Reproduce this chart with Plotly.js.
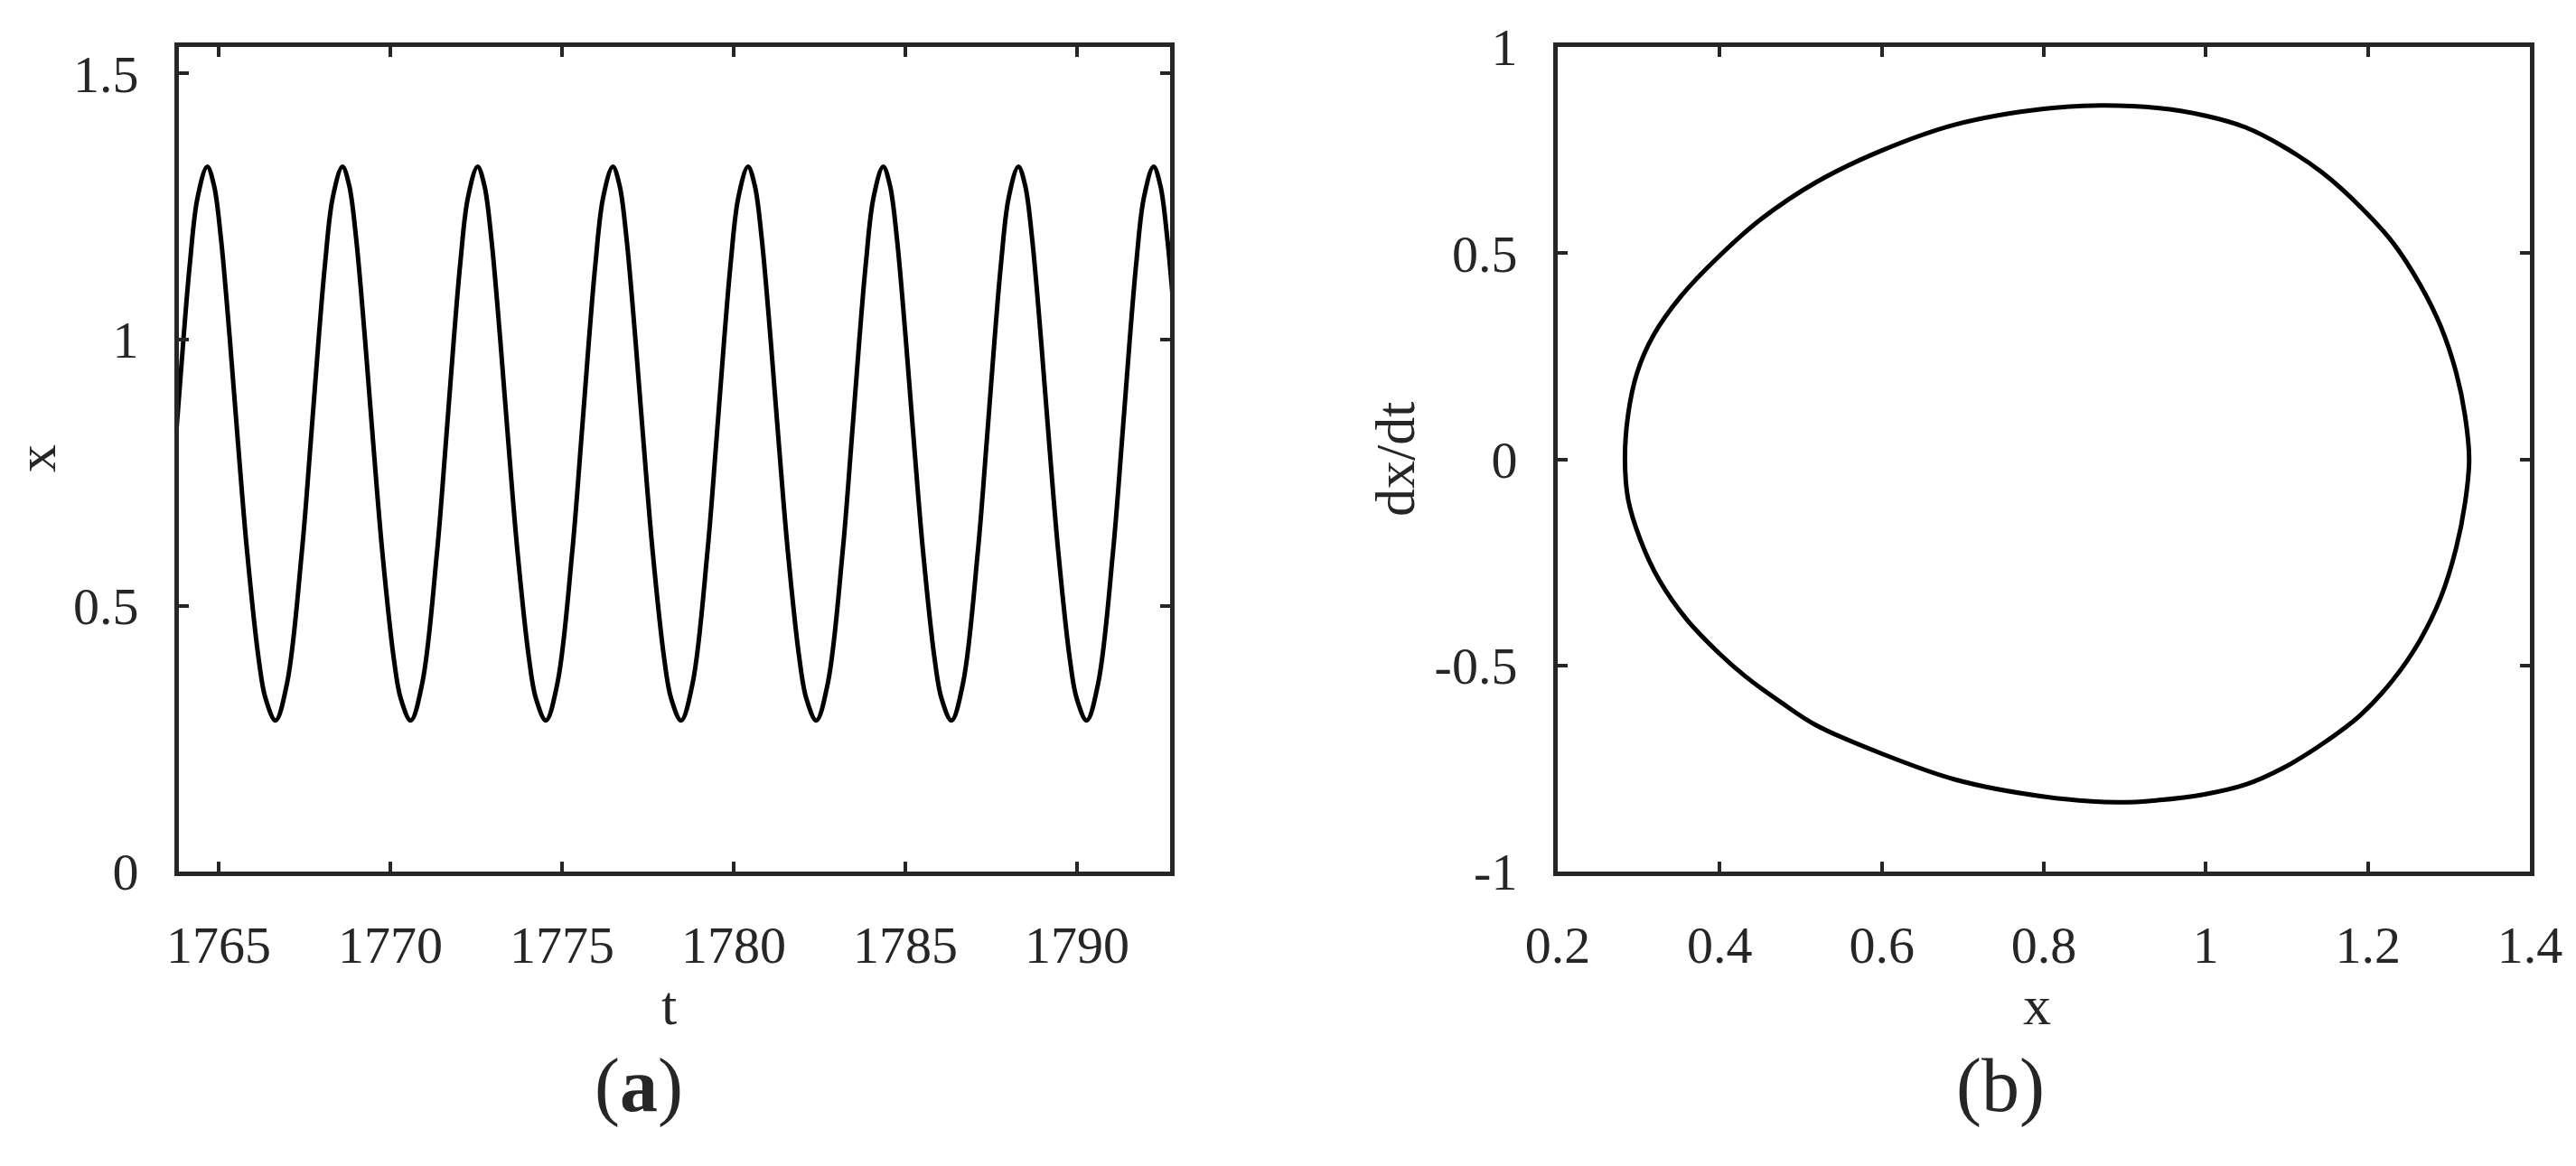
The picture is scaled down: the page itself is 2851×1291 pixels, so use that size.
<!DOCTYPE html>
<html>
<head>
<meta charset="utf-8">
<script src="https://cdn.plot.ly/plotly-3.0.1.min.js"></script>
<style>
  html, body { margin: 0; padding: 0; background: #fff; }
  #fig { width: 2851px; height: 1291px; }
</style>
</head>
<body>
<div id="fig"></div>
<script>
// (a) time series x(t) (peaks, troughs and flank points)
var tValues = [
  1762.723, 1763.060, 1763.487, 1763.738, 1763.976, 1764.166, 1764.388, 1764.670, 1764.866, 1765.068, 1765.329, 1765.573, 1765.833, 1766.167, 1766.370,
  1766.660, 1766.997, 1767.424, 1767.675, 1767.913, 1768.103, 1768.325, 1768.607, 1768.803, 1769.005, 1769.266, 1769.510, 1769.770, 1770.104, 1770.307,
  1770.597, 1770.934, 1771.361, 1771.612, 1771.850, 1772.040, 1772.262, 1772.544, 1772.740, 1772.942, 1773.203, 1773.447, 1773.707, 1774.041, 1774.244,
  1774.534, 1774.871, 1775.298, 1775.549, 1775.787, 1775.977, 1776.199, 1776.481, 1776.677, 1776.879, 1777.140, 1777.384, 1777.644, 1777.978, 1778.181,
  1778.471, 1778.808, 1779.235, 1779.486, 1779.724, 1779.914, 1780.136, 1780.418, 1780.614, 1780.816, 1781.077, 1781.321, 1781.581, 1781.915, 1782.118,
  1782.408, 1782.745, 1783.172, 1783.423, 1783.661, 1783.851, 1784.073, 1784.355, 1784.551, 1784.753, 1785.014, 1785.258, 1785.518, 1785.852, 1786.055,
  1786.345, 1786.682, 1787.109, 1787.360, 1787.598, 1787.788, 1788.010, 1788.292, 1788.488, 1788.690, 1788.951, 1789.195, 1789.455, 1789.789, 1789.992,
  1790.282, 1790.619, 1791.046, 1791.297, 1791.535, 1791.725, 1791.947, 1792.229, 1792.425, 1792.627, 1792.888, 1793.132
];
var xValues = [
  0.284, 0.355, 0.600, 0.800, 1.000, 1.144, 1.267, 1.325, 1.290, 1.191, 1.000, 0.800, 0.600, 0.400, 0.325,
  0.284, 0.355, 0.600, 0.800, 1.000, 1.144, 1.267, 1.325, 1.290, 1.191, 1.000, 0.800, 0.600, 0.400, 0.325,
  0.284, 0.355, 0.600, 0.800, 1.000, 1.144, 1.267, 1.325, 1.290, 1.191, 1.000, 0.800, 0.600, 0.400, 0.325,
  0.284, 0.355, 0.600, 0.800, 1.000, 1.144, 1.267, 1.325, 1.290, 1.191, 1.000, 0.800, 0.600, 0.400, 0.325,
  0.284, 0.355, 0.600, 0.800, 1.000, 1.144, 1.267, 1.325, 1.290, 1.191, 1.000, 0.800, 0.600, 0.400, 0.325,
  0.284, 0.355, 0.600, 0.800, 1.000, 1.144, 1.267, 1.325, 1.290, 1.191, 1.000, 0.800, 0.600, 0.400, 0.325,
  0.284, 0.355, 0.600, 0.800, 1.000, 1.144, 1.267, 1.325, 1.290, 1.191, 1.000, 0.800, 0.600, 0.400, 0.325,
  0.284, 0.355, 0.600, 0.800, 1.000, 1.144, 1.267, 1.325, 1.290, 1.191, 1.000, 0.800
];

// (b) phase portrait, limit cycle (x, dx/dt)
var phaseX = [
  0.283, 0.287, 0.298, 0.318, 0.352, 0.400, 0.450, 0.519, 0.600, 0.691, 0.800, 0.870, 0.940, 1.000, 1.049, 1.096,
  1.144, 1.191, 1.231, 1.264, 1.290, 1.309, 1.320, 1.325,
  1.320, 1.309, 1.290, 1.264, 1.231, 1.191, 1.144, 1.096, 1.049, 1.000, 0.940, 0.890, 0.800, 0.691, 0.600, 0.519,
  0.476, 0.432, 0.400, 0.359, 0.325, 0.302, 0.287, 0.283
];
var phaseV = [
  0.000, 0.110, 0.210, 0.300, 0.395, 0.494, 0.581, 0.672, 0.749, 0.812, 0.850, 0.858, 0.852, 0.833, 0.805, 0.758,
  0.695, 0.612, 0.525, 0.425, 0.322, 0.210, 0.105, 0.000,
  -0.105, -0.215, -0.335, -0.440, -0.535, -0.620, -0.690, -0.748, -0.789, -0.812, -0.827, -0.832, -0.818, -0.777, -0.714, -0.645,
  -0.590, -0.527, -0.472, -0.388, -0.292, -0.195, -0.098, 0.000
];

// tick labels
var tTicks = [1765, 1770, 1775, 1780, 1785, 1790];
var xTicksA = [0, 0.5, 1, 1.5];
var xTickTextA = ['0', '0.5', '1', '1.5'];
var xTicksB = [0.2, 0.4, 0.6, 0.8, 1, 1.2, 1.4];
var xTickTextB = ['0.2', '0.4', '0.6', '0.8', '1', '1.2', '1.4'];
var vTicks = [-1, -0.5, 0, 0.5, 1];
var vTickText = ['-1', '-0.5', '0', '0.5', '1'];

var axisColor = '#262626';
var serif = 'Liberation Serif, Times New Roman, serif';
var tickFont = { family: serif, size: 58, color: axisColor };

var data = [
  {
    x: tValues, y: xValues,
    type: 'scatter', mode: 'lines',
    line: { color: '#000', width: 5, shape: 'spline', smoothing: 1 },
    xaxis: 'x', yaxis: 'y',
    hoverinfo: 'skip'
  },
  {
    x: phaseX, y: phaseV,
    type: 'scatter', mode: 'lines',
    line: { color: '#000', width: 5, shape: 'spline', smoothing: 1 },
    xaxis: 'x2', yaxis: 'y2',
    hoverinfo: 'skip'
  }
];

function boxAxis(extra) {
  var ax = {
    showline: true, linecolor: axisColor, linewidth: 5,
    mirror: 'ticks', ticks: 'inside', ticklen: 11, tickwidth: 4, tickcolor: axisColor,
    showgrid: false, zeroline: false, automargin: false,
    tickfont: tickFont,
    tickmode: 'array'
  };
  for (var k in extra) ax[k] = extra[k];
  return ax;
}

// axis names and panel letters, placed in pixel terms
function label(text, px, py, size, angle) {
  return {
    text: text, xref: 'paper', yref: 'paper', x: px / 2851, y: (1291 - py) / 1291,
    xanchor: 'center', yanchor: 'middle', showarrow: false, textangle: angle || 0,
    font: { family: serif, size: size, color: axisColor }
  };
}

var layout = {
  width: 2851, height: 1291,
  margin: { l: 0, r: 0, t: 0, b: 0 },
  paper_bgcolor: '#fff', plot_bgcolor: '#fff',
  showlegend: false,
  font: { family: serif, color: axisColor },
  xaxis: boxAxis({
    domain: [0.06945, 0.45423], range: [1763.845, 1792.71],
    tickvals: tTicks, ticktext: tTicks.map(String), ticklabelstandoff: 26
  }),
  yaxis: boxAxis({
    domain: [0.2525, 0.9597], range: [0, 1.55],
    tickvals: xTicksA, ticktext: xTickTextA, ticklabelstandoff: 28
  }),
  xaxis2: boxAxis({
    domain: [0.6047, 0.98211], range: [0.2, 1.4], anchor: 'y2',
    tickvals: xTicksB, ticktext: xTickTextB, ticklabelstandoff: 26
  }),
  yaxis2: boxAxis({
    domain: [0.2525, 0.9597], range: [-1, 1], anchor: 'x2',
    tickvals: vTicks, ticktext: vTickText, ticklabelstandoff: 28
  }),
  annotations: [
    label('t', 740, 1113, 62),
    label('x', 2254, 1113, 62),
    label('x', 40, 508, 62, -90),
    label('dx/dt', 1544, 508, 62, -90),
    label('(<b>a</b>)', 707, 1202, 84),
    label('(b)', 2214, 1202, 84)
  ]
};

var config = { displayModeBar: false, staticPlot: true };

Plotly.newPlot('fig', data, layout, config);
</script>
</body>
</html>
